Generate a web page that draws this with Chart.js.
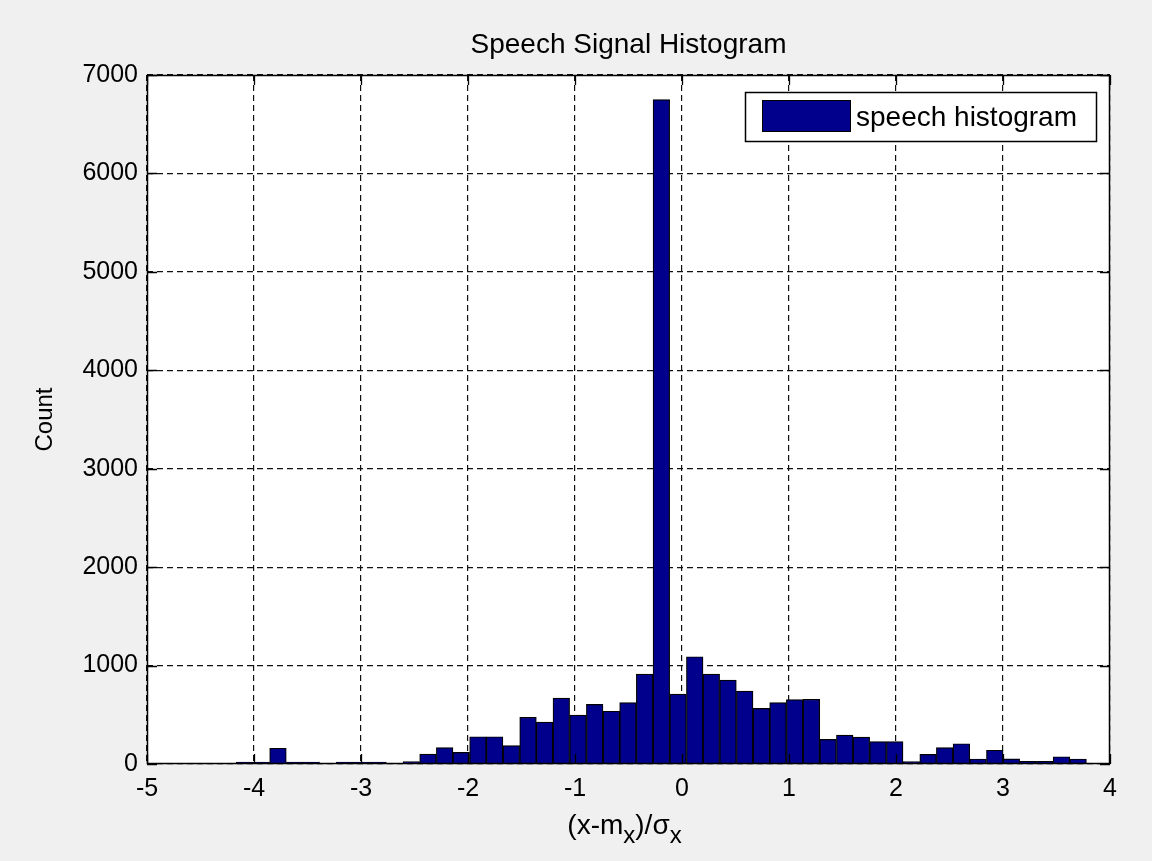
<!DOCTYPE html>
<html><head><meta charset="utf-8">
<script src="https://cdn.jsdelivr.net/npm/chart.js@4/dist/chart.umd.min.js"></script>
<style>html,body{margin:0;padding:0;background:#f0f0f0;}canvas{display:block;}</style>
</head><body>
<canvas id="c" width="1152" height="861"></canvas>
<script>
// ---- data ----
const binCenters = [-4.088,-3.932,-3.776,-3.620,-3.465,-3.309,-3.153,-2.997,-2.841,-2.686,
  -2.530,-2.374,-2.218,-2.063,-1.907,-1.751,-1.595,-1.439,-1.284,-1.128,
  -0.972,-0.816,-0.660,-0.505,-0.349,-0.193,-0.037,0.119,0.274,0.430,
  0.586,0.742,0.897,1.053,1.209,1.365,1.521,1.676,1.832,1.988,
  2.144,2.300,2.455,2.611,2.767,2.923,3.078,3.234,3.390,3.546,3.702];
const counts = [20,20,160,20,20,0,20,20,20,0,
  25,100,166,118,277,277,186,474,426,670,
  497,606,536,623,914,6750,711,1090,914,853,
  741,565,623,655,657,250,294,274,227,227,
  24,98,166,206,51,140,52,28,28,74,51];
const xTicks = [-5,-4,-3,-2,-1,0,1,2,3,4];
const yTicks = [0,1000,2000,3000,4000,5000,6000,7000];
const titleText = 'Speech Signal Histogram';
const seriesLabel = 'speech histogram';
const yTitle = 'Count';

const FONT = '"Liberation Sans", Arial, sans-serif';
const TICK = 25, BIG = 28;
const BAR = 'rgb(0,0,140)';

const overlay = {
  id: 'overlay',
  beforeDraw(chart) {
    const {ctx, chartArea: a} = chart;
    ctx.save();
    ctx.fillStyle = '#f0f0f0';
    ctx.fillRect(0, 0, chart.width, chart.height);
    ctx.fillStyle = '#ffffff';
    ctx.fillRect(a.left, a.top, a.right - a.left, a.bottom - a.top);
    ctx.restore();
  },
  afterDraw(chart) {
    const {ctx, chartArea: a, scales: {x, y}} = chart;
    ctx.save();
    // box
    ctx.strokeStyle = '#000'; ctx.lineWidth = 1.5; ctx.setLineDash([]);
    ctx.strokeRect(a.left + 0.5, a.top + 0.5, a.right - a.left - 1, a.bottom - a.top - 1);
    // inward ticks
    ctx.lineWidth = 1.3;
    ctx.beginPath();
    xTicks.forEach(v => {
      const px = Math.round(x.getPixelForValue(v)) + 0.5;
      ctx.moveTo(px, a.bottom); ctx.lineTo(px, a.bottom - 10);
      ctx.moveTo(px, a.top); ctx.lineTo(px, a.top + 10);
    });
    yTicks.forEach(v => {
      const py = Math.round(y.getPixelForValue(v)) + 0.5;
      ctx.moveTo(a.left, py); ctx.lineTo(a.left + 10, py);
      ctx.moveTo(a.right, py); ctx.lineTo(a.right - 10, py);
    });
    ctx.stroke();
    // title
    ctx.fillStyle = '#000';
    ctx.font = BIG + 'px ' + FONT;
    ctx.textAlign = 'center'; ctx.textBaseline = 'middle';
    ctx.fillText(titleText, (a.left + a.right) / 2, 45);
    // y title
    ctx.save();
    ctx.font = 24 + 'px ' + FONT;
    ctx.translate(45, (a.top + a.bottom) / 2);
    ctx.rotate(-Math.PI / 2);
    ctx.fillText(yTitle, 0, 0);
    ctx.restore();
    // x title with subscripts
    const parts = [['(x-m', 0], ['x', 1], [')/\u03c3', 0], ['x', 1]];
    const sub = 24;
    let total = 0;
    parts.forEach(p => { ctx.font = (p[1] ? sub : BIG) + 'px ' + FONT; total += ctx.measureText(p[0]).width; });
    let cx = (a.left + a.right) / 2 - total / 2 - 4;
    ctx.textAlign = 'left'; ctx.textBaseline = 'alphabetic';
    parts.forEach(p => {
      ctx.font = (p[1] ? sub : BIG) + 'px ' + FONT;
      ctx.fillText(p[0], cx, p[1] ? 843 : 834);
      cx += ctx.measureText(p[0]).width;
    });
    // legend
    const lx = 745.5, ly = 92.5, lw = 351, lh = 49;
    ctx.fillStyle = '#fff';
    ctx.fillRect(lx, ly, lw, lh);
    ctx.strokeStyle = '#000'; ctx.lineWidth = 1.5;
    ctx.strokeRect(lx, ly, lw, lh);
    ctx.fillStyle = BAR;
    ctx.fillRect(762, 100, 89, 32);
    ctx.lineWidth = 1;
    ctx.strokeRect(762.5, 100.5, 88, 31);
    ctx.fillStyle = '#000';
    ctx.font = BIG + 'px ' + FONT;
    ctx.textAlign = 'left'; ctx.textBaseline = 'middle';
    ctx.fillText(chart.data.datasets[0].label, 856, 118);
    ctx.restore();
  }
};

new Chart(document.getElementById('c'), {
  type: 'bar',
  data: {
    datasets: [{
      label: seriesLabel,
      data: binCenters.map((c, i) => ({x: c, y: counts[i]})),
      backgroundColor: BAR,
      borderColor: '#000',
      borderWidth: 1.2,
      barPercentage: 1.0,
      categoryPercentage: 1.0
    }]
  },
  options: {
    responsive: false,
    animation: false,
    devicePixelRatio: 1,
    layout: {padding: {left: 0, right: 42, top: 75, bottom: 0}},
    plugins: {legend: {display: false}, title: {display: false}, tooltip: {enabled: false}},
    scales: {
      x: {
        type: 'linear', min: -5, max: 4, offset: false,
        afterBuildTicks: s => { s.ticks = xTicks.map(v => ({value: v})); },
        afterFit: s => { s.height = 97; },
        grid: {color: '#111', lineWidth: 1.2, drawTicks: false, offset: false},
        border: {display: false, dash: [6, 4]},
        ticks: {color: '#000', font: {family: FONT, size: TICK}, padding: 10, maxRotation: 0, autoSkip: false,
          callback: v => String(v)}
      },
      y: {
        min: 0, max: 7000,
        afterBuildTicks: s => { s.ticks = yTicks.map(v => ({value: v})); },
        afterFit: s => { s.width = 147; },
        grid: {color: '#111', lineWidth: 1.2, drawTicks: false},
        border: {display: false, dash: [6, 4]},
        ticks: {color: '#000', font: {family: FONT, size: TICK}, padding: 9, autoSkip: false,
          callback: v => String(v)}
      }
    }
  },
  plugins: [overlay]
});
</script>
</body></html>
